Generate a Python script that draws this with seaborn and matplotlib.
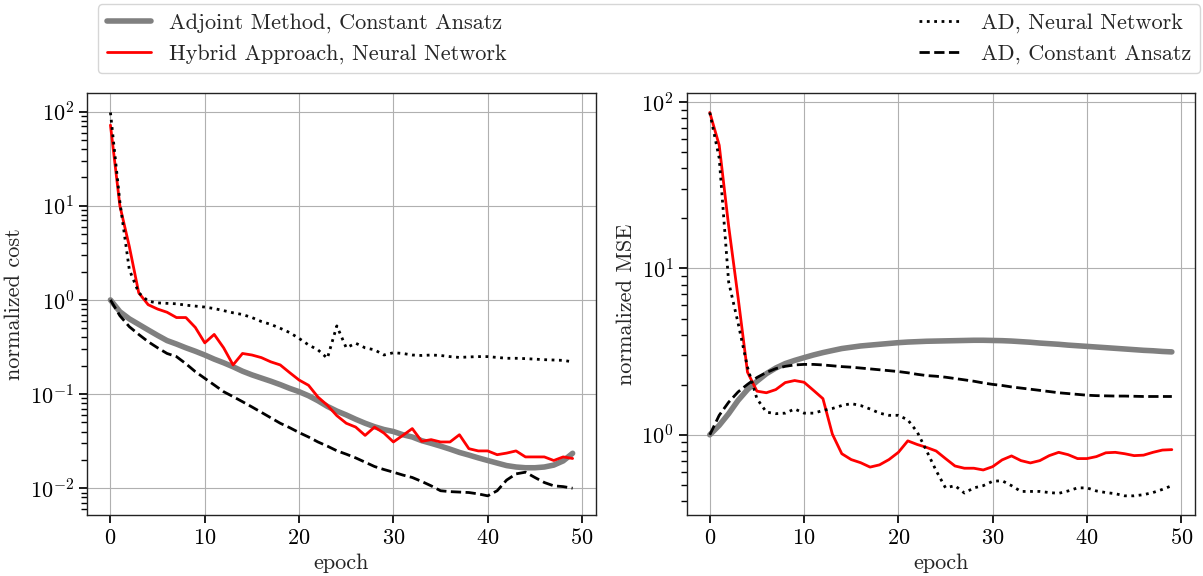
import numpy as np
import pandas as pd
import matplotlib
matplotlib.use("Agg")
import matplotlib.pyplot as plt
import seaborn as sns

epochs = list(range(50))

# Left panel: normalized cost
adjoint_const_cost = [1.0, 0.75, 0.63, 0.55, 0.48, 0.42, 0.37, 0.34, 0.31, 0.285,
                      0.26, 0.235, 0.215, 0.195, 0.175, 0.16, 0.148, 0.137, 0.126, 0.115,
                      0.106, 0.096, 0.085, 0.074, 0.066, 0.060, 0.054, 0.049, 0.045, 0.042,
                      0.040, 0.037, 0.035, 0.032, 0.030, 0.028, 0.026, 0.024, 0.0225, 0.021,
                      0.0197, 0.0185, 0.0174, 0.0168, 0.0165, 0.0165, 0.0168, 0.0176, 0.0195, 0.0235]
hybrid_nn_cost = [72, 10, 3.7, 1.19, 0.89, 0.80, 0.74, 0.65, 0.65, 0.51,
                  0.35, 0.43, 0.31, 0.204, 0.27, 0.26, 0.244, 0.22, 0.204, 0.169,
                  0.141, 0.124, 0.093, 0.076, 0.059, 0.049, 0.0446, 0.0364, 0.0446, 0.0385,
                  0.031, 0.0364, 0.043, 0.0315, 0.0328, 0.031, 0.031, 0.037, 0.0263, 0.0249,
                  0.0249, 0.0227, 0.0236, 0.0249, 0.0215, 0.0215, 0.0215, 0.0197, 0.0215, 0.0207]
ad_nn_cost = [98, 11, 2.1, 1.19, 0.97, 0.93, 0.92, 0.91, 0.88, 0.86,
              0.84, 0.81, 0.77, 0.73, 0.70, 0.65, 0.59, 0.55, 0.50, 0.45,
              0.39, 0.333, 0.295, 0.24, 0.53, 0.31, 0.347, 0.31, 0.295, 0.26,
              0.275, 0.27, 0.26, 0.257, 0.26, 0.257, 0.25, 0.245, 0.248, 0.25,
              0.25, 0.245, 0.24, 0.24, 0.238, 0.235, 0.232, 0.23, 0.228, 0.22]
ad_const_cost = [1.0, 0.68, 0.52, 0.43, 0.36, 0.31, 0.27, 0.25, 0.21, 0.173,
                 0.147, 0.125, 0.106, 0.094, 0.083, 0.073, 0.064, 0.056, 0.049, 0.044,
                 0.039, 0.035, 0.031, 0.028, 0.025, 0.023, 0.021, 0.0189, 0.017, 0.0158,
                 0.0148, 0.0138, 0.013, 0.0118, 0.0106, 0.0094, 0.0092, 0.0091, 0.009, 0.0087,
                 0.0083, 0.0094, 0.0122, 0.0142, 0.0148, 0.013, 0.0115, 0.0106, 0.0104, 0.0100]

# Right panel: normalized MSE
adjoint_const_mse = [1.0, 1.14, 1.34, 1.61, 1.87, 2.10, 2.33, 2.52, 2.68, 2.80,
                     2.91, 3.02, 3.12, 3.21, 3.30, 3.36, 3.42, 3.46, 3.50, 3.54,
                     3.58, 3.61, 3.63, 3.65, 3.66, 3.67, 3.68, 3.69, 3.70, 3.70,
                     3.69, 3.68, 3.66, 3.63, 3.60, 3.56, 3.53, 3.50, 3.46, 3.43,
                     3.40, 3.37, 3.34, 3.31, 3.28, 3.25, 3.22, 3.20, 3.17, 3.15]
hybrid_nn_mse = [86.5, 55, 18, 6.7, 2.38, 1.83, 1.79, 1.87, 2.06, 2.12,
                 2.07, 1.85, 1.65, 1.01, 0.77, 0.71, 0.68, 0.64, 0.66, 0.71,
                 0.785, 0.92, 0.875, 0.84, 0.80, 0.72, 0.65, 0.63, 0.63, 0.615,
                 0.644, 0.707, 0.747, 0.70, 0.678, 0.70, 0.75, 0.785, 0.76, 0.72,
                 0.72, 0.74, 0.78, 0.785, 0.77, 0.75, 0.755, 0.785, 0.81, 0.815]
ad_nn_mse = [86.5, 46, 8.3, 4.7, 2.55, 1.65, 1.37, 1.34, 1.35, 1.43,
             1.35, 1.35, 1.40, 1.44, 1.50, 1.54, 1.50, 1.43, 1.35, 1.31,
             1.31, 1.23, 1.04, 0.80, 0.61, 0.48, 0.495, 0.447, 0.48, 0.495,
             0.526, 0.53, 0.495, 0.457, 0.457, 0.457, 0.45, 0.445, 0.46, 0.48,
             0.48, 0.46, 0.45, 0.443, 0.43, 0.43, 0.437, 0.45, 0.47, 0.495]
ad_const_mse = [1.0, 1.31, 1.57, 1.81, 2.01, 2.21, 2.37, 2.50, 2.58, 2.63,
                2.65, 2.65, 2.63, 2.60, 2.57, 2.55, 2.52, 2.49, 2.46, 2.43,
                2.40, 2.36, 2.31, 2.27, 2.25, 2.22, 2.18, 2.14, 2.10, 2.05,
                2.01, 1.98, 1.94, 1.91, 1.88, 1.85, 1.82, 1.79, 1.77, 1.75,
                1.73, 1.72, 1.715, 1.71, 1.71, 1.705, 1.70, 1.70, 1.70, 1.70]

labels = ["Adjoint Method, Constant Ansatz", "Hybrid Approach, Neural Network",
          "AD, Neural Network", "AD, Constant Ansatz"]
xlabel = "epoch"
ylabels = ["normalized cost", "normalized MSE"]

sns.set_theme(style="ticks")
plt.rcParams.update({
    "font.family": ["cmr10", "DejaVu Serif"],
    "mathtext.fontset": "cm",
    "axes.unicode_minus": False,
    "axes.formatter.use_mathtext": True,
    "font.size": 16,
    "axes.labelsize": 16,
    "xtick.labelsize": 16,
    "ytick.labelsize": 16,
    "legend.fontsize": 16,
    "axes.edgecolor": "#222222",
    "axes.linewidth": 1.0,
    "axes.grid": True,
    "grid.color": "#b0b0b0",
    "grid.linewidth": 0.8,
    "xtick.color": "black",
    "ytick.color": "black",
    "xtick.direction": "out",
    "ytick.direction": "out",
})

styles = [dict(color="gray", lw=4.0, ls="-"),
          dict(color="red", lw=2.0, ls="-"),
          dict(color="black", lw=2.0, ls=":"),
          dict(color="black", lw=2.0, ls="--")]

fig = plt.figure(figsize=(12.03, 5.76), dpi=100)
ax1 = fig.add_axes([0.0726, 0.1059, 0.4226, 0.7321])
ax2 = fig.add_axes([0.5708, 0.1059, 0.4225, 0.7321])

panels = [(ax1, [adjoint_const_cost, hybrid_nn_cost, ad_nn_cost, ad_const_cost]),
          (ax2, [adjoint_const_mse, hybrid_nn_mse, ad_nn_mse, ad_const_mse])]

for i, (ax, series) in enumerate(panels):
    for vals, lab, st in zip(series, labels, styles):
        df = pd.DataFrame({"epoch": epochs, "value": vals})
        sns.lineplot(data=df, x="epoch", y="value", ax=ax, color=st["color"],
                     linewidth=st["lw"], linestyle=st["ls"], label=lab, legend=False)
    ax.set_yscale("log")
    ax.set_xlabel(xlabel)
    ax.set_ylabel(ylabels[i])
    ax.set_xticks([0, 10, 20, 30, 40, 50])
    ax.grid(True, which="major", color="#b0b0b0", lw=0.8)
    ax.grid(False, which="minor")
    for s in ax.spines.values():
        s.set_visible(True)

handles, labs = ax1.get_legend_handles_labels()
fig.legend(handles, labs, ncol=2, mode="expand", loc="lower left",
           bbox_to_anchor=(0.0815, 0.873, 0.916, 0.122), borderaxespad=0.0,
           frameon=True, fancybox=True, edgecolor="#cccccc")

fig.savefig("out.png", dpi=100)
